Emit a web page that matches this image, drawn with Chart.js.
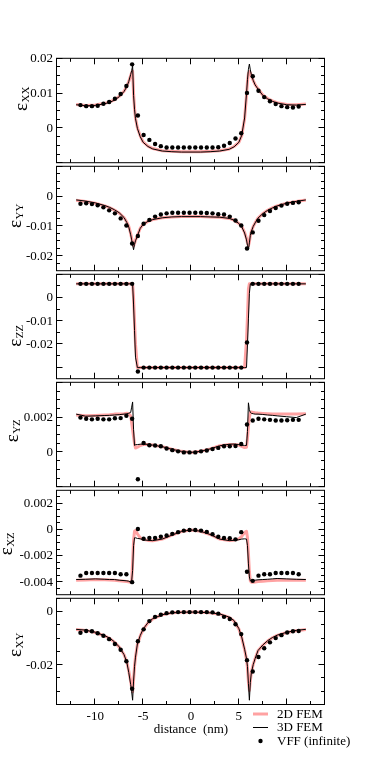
<!DOCTYPE html>
<html><head><meta charset="utf-8">
<script src="https://cdn.jsdelivr.net/npm/chart.js@4/dist/chart.umd.min.js"></script>
<style>
html,body{margin:0;padding:0;background:#fff;}
#wrap{position:relative;width:382px;height:763px;overflow:hidden;background:#fff;}
#wrap canvas{position:absolute;left:0;}
</style></head>
<body><div id="wrap"></div>
<script>
// ---------- data ----------
const lineX = [-12, -11, -10, -9, -8.5, -8, -7.5, -7,
  -6.7, -6.5, -6.3, -6.2, -6.1, -6.0, -5.9, -5.8,
  -5.6, -5.3, -5, -4.5, -4, -3, -2, -1,
  0,
  1, 2, 3, 4, 4.5, 5, 5.3, 5.6,
  5.8, 5.9, 6.0, 6.1, 6.2, 6.3, 6.5, 6.7,
  7, 7.5, 8, 8.5, 9, 10, 11, 12];

const dotX = [-11.55, -10.95, -10.35, -9.75, -9.15, -8.55, -7.95, -7.35, -6.75, -6.15,
  -5.55, -4.95, -4.35, -3.75, -3.15, -2.55, -1.95, -1.35, -0.75, -0.15,
  0.45, 1.05, 1.65, 2.25, 2.85, 3.45, 4.05, 4.65, 5.25, 5.85,
  6.45, 7.05, 7.65, 8.25, 8.85, 9.45, 10.05, 10.65, 11.25];

// eps_XX
const xx3D = [0.0068, 0.0065, 0.0066, 0.0071, 0.0075, 0.0081, 0.0091, 0.0106,
  0.0120, 0.0135, 0.0155, 0.0166, 0.0180, 0.0095, 0.0055, 0.0028,
  0.0000, -0.0024, -0.0040, -0.0052, -0.0059, -0.0065, -0.0067, -0.0068,
  -0.0068,
  -0.0068, -0.0067, -0.0065, -0.0060, -0.0053, -0.0040, -0.0020, 0.0030,
  0.0100, 0.0140, 0.0170, 0.0185, 0.0168, 0.0155, 0.0138, 0.0125,
  0.0113, 0.0095, 0.0085, 0.0078, 0.0073, 0.0068, 0.0067, 0.0069];
const xx2D = [0.0069, 0.0066, 0.0067, 0.0072, 0.0076, 0.0082, 0.0092, 0.0107,
  0.0121, 0.0135, 0.0152, 0.0160, 0.0165, 0.0100, 0.0058, 0.0030,
  0.0002, -0.0022, -0.0039, -0.0051, -0.0058, -0.0064, -0.0066, -0.0067,
  -0.0067,
  -0.0067, -0.0066, -0.0064, -0.0059, -0.0052, -0.0040, -0.0021, 0.0028,
  0.0095, 0.0135, 0.0158, 0.0163, 0.0160, 0.0152, 0.0138, 0.0126,
  0.0114, 0.0096, 0.0086, 0.0079, 0.0074, 0.0069, 0.0068, 0.0070];
const xxVFF = [0.0067, 0.0064, 0.0064, 0.0065, 0.0071, 0.0076, 0.0085, 0.0099, 0.0122, 0.0184,
  0.0037, -0.0019, -0.0033, -0.0045, -0.0051, -0.0055, -0.0055, -0.0055, -0.0055, -0.0055,
  -0.0055, -0.0055, -0.0055, -0.0055, -0.0054, -0.0050, -0.0042, -0.0029, -0.0014, 0.0102,
  0.0150, 0.0108, 0.0090, 0.0078, 0.0070, 0.0064, 0.0061, 0.0060, 0.0063];

// eps_YY
const yy3D = [-0.0011, -0.0015, -0.0021, -0.0030, -0.0036, -0.0044, -0.0054, -0.0070,
  -0.0087, -0.0102, -0.0128, -0.0145, -0.0162, -0.0178, -0.0160, -0.0148,
  -0.0132, -0.0106, -0.0093, -0.0083, -0.0077, -0.0071, -0.0068, -0.0067,
  -0.0067,
  -0.0067, -0.0068, -0.0069, -0.0073, -0.0079, -0.0090, -0.0101, -0.0122,
  -0.0145, -0.0163, -0.0178, -0.0155, -0.0130, -0.0117, -0.0100, -0.0088,
  -0.0072, -0.0057, -0.0046, -0.0038, -0.0031, -0.0022, -0.0016, -0.0011];
const yy2D = [-0.0012, -0.0016, -0.0022, -0.0031, -0.0037, -0.0045, -0.0055, -0.0070,
  -0.0086, -0.0100, -0.0124, -0.0140, -0.0155, -0.0165, -0.0157, -0.0146,
  -0.0130, -0.0106, -0.0093, -0.0083, -0.0077, -0.0071, -0.0068, -0.0067,
  -0.0067,
  -0.0067, -0.0068, -0.0069, -0.0073, -0.0079, -0.0090, -0.0100, -0.0120,
  -0.0140, -0.0155, -0.0165, -0.0152, -0.0130, -0.0117, -0.0100, -0.0088,
  -0.0072, -0.0057, -0.0046, -0.0038, -0.0031, -0.0022, -0.0016, -0.0011];
const yyVFF = [-0.0024, -0.0022, -0.0025, -0.0029, -0.0036, -0.0046, -0.0056, -0.0073, -0.0097, -0.0157,
  -0.0132, -0.0091, -0.0078, -0.0067, -0.0060, -0.0056, -0.0054, -0.0054, -0.0054, -0.0054,
  -0.0054, -0.0054, -0.0055, -0.0056, -0.0059, -0.0060, -0.0067, -0.0080, -0.0097, -0.0174,
  -0.0120, -0.0081, -0.0062, -0.0048, -0.0038, -0.0030, -0.0024, -0.0021, -0.0019];

// eps_ZZ
const zz3D = [0.0061, 0.0061, 0.0061, 0.0061, 0.0061, 0.0061, 0.0061, 0.0061,
  0.0061, 0.0061, 0.0061, 0.0061, 0.0061, -0.0030, -0.0140, -0.0255,
  -0.0300, -0.0300, -0.0300, -0.0300, -0.0300, -0.0300, -0.0300, -0.0300,
  -0.0300,
  -0.0300, -0.0300, -0.0300, -0.0300, -0.0300, -0.0300, -0.0300, -0.0300,
  -0.0300, -0.0200, -0.0090, 0.0020, 0.0061, 0.0061, 0.0061, 0.0061,
  0.0061, 0.0061, 0.0061, 0.0061, 0.0061, 0.0061, 0.0061, 0.0061];
const zz2D = [0.0061, 0.0061, 0.0061, 0.0061, 0.0061, 0.0061, 0.0061, 0.0061,
  0.0061, 0.0061, 0.0061, 0.0061, 0.0061, 0.0000, -0.0100, -0.0200,
  -0.0300, -0.0300, -0.0300, -0.0300, -0.0300, -0.0300, -0.0300, -0.0300,
  -0.0300,
  -0.0300, -0.0300, -0.0300, -0.0300, -0.0300, -0.0300, -0.0300, -0.0300,
  -0.0180, -0.0080, 0.0040, 0.0061, 0.0061, 0.0061, 0.0061, 0.0061,
  0.0061, 0.0061, 0.0061, 0.0061, 0.0061, 0.0061, 0.0061, 0.0061];
const zzVFF = [0.0061, 0.0061, 0.0061, 0.0061, 0.0061, 0.0061, 0.0061, 0.0061, 0.0061, 0.0061,
  -0.0317, -0.0300, -0.0300, -0.0300, -0.0300, -0.0300, -0.0300, -0.0300, -0.0300, -0.0300,
  -0.0300, -0.0300, -0.0300, -0.0300, -0.0300, -0.0300, -0.0300, -0.0300, -0.0300, -0.0192,
  0.0061, 0.0061, 0.0061, 0.0061, 0.0061, 0.0061, 0.0061, 0.0061, 0.0061];

// eps_YZ
const yz3D = [0.00220, 0.00208, 0.00210, 0.00212, 0.00213, 0.00215, 0.00217, 0.00220,
  0.00222, 0.00225, 0.00230, 0.00260, 0.00290, 0.00130, 0.00040, 0.00044,
  0.00045, 0.00047, 0.00048, 0.00046, 0.00042, 0.00033, 0.00018, 0.00006,
  0.00000,
  0.00006, 0.00020, 0.00038, 0.00047, 0.00048, 0.00045, 0.00042, 0.00040,
  0.00040, 0.00120, 0.00285, 0.00245, 0.00230, 0.00225, 0.00222, 0.00220,
  0.00220, 0.00218, 0.00215, 0.00213, 0.00210, 0.00205, 0.00200, 0.00220];
const yz2D = [0.00215, 0.00210, 0.00212, 0.00215, 0.00217, 0.00220, 0.00220, 0.00222,
  0.00225, 0.00222, 0.00210, 0.00170, 0.00130, 0.00090, 0.00050, 0.00025,
  0.00030, 0.00040, 0.00045, 0.00045, 0.00042, 0.00033, 0.00018, 0.00006,
  0.00000,
  0.00006, 0.00020, 0.00038, 0.00046, 0.00046, 0.00042, 0.00035, 0.00028,
  0.00030, 0.00080, 0.00150, 0.00200, 0.00230, 0.00232, 0.00230, 0.00228,
  0.00226, 0.00224, 0.00222, 0.00220, 0.00220, 0.00220, 0.00220, 0.00222];
const yzVFF = [0.00200, 0.00193, 0.00190, 0.00193, 0.00190, 0.00190, 0.00196, 0.00197, 0.00210, 0.00193,
  -0.00154, 0.00054, 0.00041, 0.00040, 0.00035, 0.00022, 0.00013, 0.00006, 0.00000, 0.00000,
  0.00000, 0.00006, 0.00011, 0.00019, 0.00026, 0.00035, 0.00035, 0.00037, 0.00048, 0.00160,
  0.00183, 0.00193, 0.00190, 0.00187, 0.00183, 0.00183, 0.00185, 0.00187, 0.00187];

// eps_XZ
const xz3D = [-0.00380, -0.00378, -0.00375, -0.00378, -0.00380, -0.00380, -0.00385, -0.00388,
  -0.00390, -0.00393, -0.00400, -0.00390, -0.00310, -0.00120, -0.00060, -0.00060,
  -0.00065, -0.00068, -0.00075, -0.00080, -0.00082, -0.00070, -0.00040, -0.00012,
  0.00000,
  -0.00010, -0.00035, -0.00070, -0.00082, -0.00080, -0.00075, -0.00070, -0.00068,
  -0.00070, -0.00120, -0.00260, -0.00360, -0.00390, -0.00390, -0.00388, -0.00385,
  -0.00382, -0.00380, -0.00378, -0.00375, -0.00372, -0.00375, -0.00378, -0.00380];
const xz2D = [-0.00385, -0.00383, -0.00380, -0.00382, -0.00384, -0.00386, -0.00390, -0.00393,
  -0.00395, -0.00398, -0.00400, -0.00390, -0.00250, -0.00080, -0.00010, -0.00005,
  -0.00030, -0.00060, -0.00072, -0.00080, -0.00082, -0.00070, -0.00040, -0.00012,
  0.00000,
  -0.00010, -0.00035, -0.00070, -0.00080, -0.00078, -0.00068, -0.00050, -0.00020,
  -0.00010, -0.00060, -0.00180, -0.00320, -0.00390, -0.00400, -0.00400, -0.00398,
  -0.00395, -0.00393, -0.00390, -0.00388, -0.00385, -0.00385, -0.00385, -0.00385];
const xzVFF = [-0.00350, -0.00330, -0.00330, -0.00330, -0.00330, -0.00330, -0.00330, -0.00340, -0.00340, -0.00400,
  0.00007, -0.00067, -0.00062, -0.00062, -0.00052, -0.00042, -0.00030, -0.00017, -0.00005, 0.00000,
  0.00000, -0.00005, -0.00015, -0.00032, -0.00052, -0.00062, -0.00064, -0.00072, -0.00017, -0.00320,
  -0.00390, -0.00350, -0.00340, -0.00340, -0.00330, -0.00330, -0.00330, -0.00330, -0.00340];

// eps_XY
const xy3D = [-0.0065, -0.0068, -0.0076, -0.0089, -0.0098, -0.0112, -0.0131, -0.0160,
  -0.0190, -0.0228, -0.0273, -0.0300, -0.0332, -0.0260, -0.0205, -0.0170,
  -0.0120, -0.0088, -0.0064, -0.0040, -0.0025, -0.0010, -0.0003, -0.0001,
  0.0000,
  -0.0001, -0.0003, -0.0007, -0.0019, -0.0032, -0.0062, -0.0094, -0.0140,
  -0.0175, -0.0205, -0.0270, -0.0332, -0.0265, -0.0230, -0.0198, -0.0175,
  -0.0145, -0.0124, -0.0108, -0.0096, -0.0087, -0.0076, -0.0069, -0.0065];
const xy2D = [-0.0066, -0.0069, -0.0077, -0.0090, -0.0099, -0.0113, -0.0132, -0.0160,
  -0.0188, -0.0222, -0.0262, -0.0285, -0.0300, -0.0255, -0.0205, -0.0170,
  -0.0122, -0.0090, -0.0066, -0.0041, -0.0026, -0.0010, -0.0003, -0.0001,
  0.0000,
  -0.0001, -0.0003, -0.0008, -0.0020, -0.0034, -0.0064, -0.0096, -0.0142,
  -0.0178, -0.0210, -0.0265, -0.0295, -0.0260, -0.0228, -0.0197, -0.0175,
  -0.0146, -0.0125, -0.0109, -0.0097, -0.0088, -0.0077, -0.0070, -0.0066];
const xyVFF = [-0.0078, -0.0071, -0.0072, -0.0080, -0.0089, -0.0102, -0.0120, -0.0142, -0.0185, -0.0289,
  -0.0110, -0.0065, -0.0034, -0.0018, -0.0010, -0.0004, -0.0001, 0.0000, 0.0000, 0.0000,
  0.0000, 0.0000, 0.0000, -0.0001, -0.0006, -0.0018, -0.0026, -0.0046, -0.0083, -0.0181,
  -0.0224, -0.0169, -0.0136, -0.0114, -0.0098, -0.0087, -0.0077, -0.0072, -0.0071];

// ---------- ticks ----------
const xTickLabels = [-10, -5, 0, 5];
const xMajorTicks = [-10, -5, 0, 5, 10];
const xMinorTicks = [-12.5, -7.5, -2.5, 2.5, 7.5, 12.5];

const yLabelsXX = [0, 0.01, 0.02];
const yMajorXX = [-0.01, 0, 0.01, 0.02];
const yMinorXX = [-0.0075, -0.005, -0.0025, 0.0025, 0.005, 0.0075, 0.0125, 0.015, 0.0175];

const yLabelsYY = [-0.02, -0.01, 0];
const yMajorYY = [-0.02, -0.01, 0, 0.01];
const yMinorYY = [-0.0225, -0.0175, -0.015, -0.0125, -0.0075, -0.005, -0.0025, 0.0025, 0.005, 0.0075];

const yLabelsZZ = [-0.02, -0.01, 0];
const yMajorZZ = [-0.03, -0.02, -0.01, 0, 0.01];
const yMinorZZ = [-0.025, -0.015, -0.005, 0.005];

const yLabelsYZ = [0, 0.002];
const yMajorYZ = [-0.002, 0, 0.002, 0.004];
const yMinorYZ = [-0.0015, -0.001, -0.0005, 0.0005, 0.001, 0.0015, 0.0025, 0.003, 0.0035];

const yLabelsXZ = [-0.004, -0.002, 0, 0.002];
const yMajorXZ = [-0.004, -0.002, 0, 0.002];
const yMinorXZ = [-0.0045, -0.0035, -0.003, -0.0025, -0.0015, -0.001, -0.0005, 0.0005, 0.001, 0.0015, 0.0025];

const yLabelsXY = [-0.02, 0];
const yMajorXY = [-0.02, 0];
const yMinorXY = [-0.03, -0.025, -0.015, -0.01, -0.005, 0.005];

const legendLabels = ['2D FEM', '3D FEM', 'VFF (infinite)'];

// ---------- layout / style ----------
const SERIF = "'Liberation Serif','Times New Roman',Times,serif";
const PINK = '#ffa2a2';
const panels = [
  {sub: 'XX', min: -0.01,  max: 0.02,  labels: yLabelsXX, majors: yMajorXX, minors: yMinorXX, d2: xx2D, d3: xx3D, vff: xxVFF, titleY: 99,  titleX: 27},
  {sub: 'YY', min: -0.025, max: 0.01,  labels: yLabelsYY, majors: yMajorYY, minors: yMinorYY, d2: yy2D, d3: yy3D, vff: yyVFF, titleY: 216, titleX: 21},
  {sub: 'ZZ', min: -0.035, max: 0.01,  labels: yLabelsZZ, majors: yMajorZZ, minors: yMinorZZ, d2: zz2D, d3: zz3D, vff: zzVFF, titleY: 336, titleX: 21},
  {sub: 'YZ', min: -0.002, max: 0.004, labels: yLabelsYZ, majors: yMajorYZ, minors: yMinorYZ, d2: yz2D, d3: yz3D, vff: yzVFF, titleY: 431, titleX: 18},
  {sub: 'XZ', min: -0.005, max: 0.003, labels: yLabelsXZ, majors: yMajorXZ, minors: yMinorXZ, d2: xz2D, d3: xz3D, vff: xzVFF, titleY: 544, titleX: 12},
  {sub: 'XY', min: -0.035, max: 0.005, labels: yLabelsXY, majors: yMajorXY, minors: yMinorXY, d2: xy2D, d3: xy3D, vff: xyVFF, titleY: 645, titleX: 21}
];

const PANEL_TOP = 57, PANEL_H = 108, PAD = 10;
const wrap = document.getElementById('wrap');

panels.forEach((p, i) => {
  const isLast = i === panels.length - 1;
  const top = PANEL_TOP + PANEL_H * i;
  const cTop = top - PAD;
  const h = isLast ? 763 - cTop : PANEL_H + 2 * PAD;
  const c = document.createElement('canvas');
  c.width = 382; c.height = h;
  c.style.top = cTop + 'px';
  c.style.width = '382px'; c.style.height = h + 'px';
  wrap.appendChild(c);

  const decor = {
    id: 'decor' + i,
    afterDraw(chart) {
      const {ctx, chartArea: a, scales} = chart;
      const xs = scales.x, ys = scales.y;
      ctx.save();
      ctx.strokeStyle = '#000';
      ctx.lineWidth = 1;
      const L = a.left - 0.5, R = a.right - 0.5, T = a.top - 0.5, B = a.bottom - 0.5;
      ctx.strokeRect(L, T, R - L, B - T);
      const seg = (x1, y1, x2, y2) => { ctx.beginPath(); ctx.moveTo(x1, y1); ctx.lineTo(x2, y2); ctx.stroke(); };
      const xt = (vals, len) => vals.forEach(v => {
        const px = Math.round(xs.getPixelForValue(v)) - 0.5;
        seg(px, B, px, B - len); seg(px, T, px, T + len);
      });
      const yt = (vals, len) => vals.forEach(v => {
        const py = Math.round(ys.getPixelForValue(v)) - 0.5;
        seg(L, py, L + len, py); seg(R, py, R - len, py);
      });
      xt(xMajorTicks, 6); xt(xMinorTicks, 3.5);
      yt(p.majors, 6); yt(p.minors, 3.5);

      // y-axis title with subscript, rotated
      ctx.fillStyle = '#000';
      ctx.translate(p.titleX, p.titleY - cTop);
      ctx.rotate(-Math.PI / 2);
      ctx.textBaseline = 'alphabetic';
      ctx.textAlign = 'left';
      ctx.font = '19px ' + SERIF;
      const we = ctx.measureText('ε').width;
      ctx.font = '11px ' + SERIF;
      const ws = ctx.measureText(p.sub).width;
      const x0 = -(we + ws) / 2;
      ctx.font = '19px ' + SERIF;
      ctx.fillText('ε', x0, 0);
      ctx.font = '11px ' + SERIF;
      ctx.fillText(p.sub, x0 + we + 0.5, 2);
      ctx.restore();

      if (isLast) {
        ctx.save();
        ctx.font = '13px ' + SERIF;
        ctx.fillStyle = '#000';
        ctx.textBaseline = 'middle';
        ctx.textAlign = 'left';
        const rows = [714, 727.5, 741].map(v => v - cTop);
        ctx.strokeStyle = PINK; ctx.lineWidth = 3;
        seg(253, rows[0], 268, rows[0]);
        ctx.strokeStyle = '#000'; ctx.lineWidth = 1;
        seg(253, rows[1], 268, rows[1]);
        ctx.beginPath(); ctx.arc(260.5, rows[2], 2.2, 0, Math.PI * 2); ctx.fill();
        legendLabels.forEach((t, k) => ctx.fillText(t, 277, rows[k] + 0.5));
        ctx.restore();
      }
    }
  };

  new Chart(c, {
    type: 'scatter',
    data: {
      datasets: [
        {label: legendLabels[2], data: dotX.map((x, k) => ({x, y: p.vff[k]})), showLine: false,
         pointRadius: 2.2, pointBackgroundColor: '#000', pointBorderWidth: 0, pointHoverRadius: 2.2, order: 0},
        {label: legendLabels[1], data: lineX.map((x, k) => ({x, y: p.d3[k]})), showLine: true,
         borderColor: '#000', borderWidth: 1, pointRadius: 0, order: 1},
        {label: legendLabels[0], data: lineX.map((x, k) => ({x, y: p.d2[k]})), showLine: true,
         borderColor: PINK, borderWidth: 3, borderJoinStyle: 'round', pointRadius: 0, order: 2}
      ]
    },
    options: {
      animation: false,
      responsive: false,
      devicePixelRatio: 1,
      events: [],
      layout: {padding: {left: 0, right: 57, top: PAD, bottom: isLast ? 0 : PAD}},
      plugins: {legend: {display: false}, tooltip: {enabled: false}, title: {display: false}},
      scales: {
        x: {
          type: 'linear', min: -14, max: 14, display: isLast,
          grid: {display: false, drawTicks: false}, border: {display: false},
          afterBuildTicks: s => { s.ticks = xTickLabels.map(v => ({value: v})); },
          afterFit: s => { s.height = isLast ? 58 : 0; },
          ticks: {autoSkip: false, maxRotation: 0, padding: 4, color: '#000',
                  font: {family: SERIF, size: 13}, callback: v => String(v)},
          title: {display: true, text: 'distance  (nm)', color: '#000',
                  font: {family: SERIF, size: 13}, padding: {top: 0, bottom: 26}}
        },
        y: {
          type: 'linear', min: p.min, max: p.max,
          grid: {display: false, drawTicks: false}, border: {display: false},
          afterBuildTicks: s => { s.ticks = p.labels.map(v => ({value: v})); },
          afterFit: s => { s.width = 57; },
          ticks: {autoSkip: false, padding: 4, color: '#000',
                  font: {family: SERIF, size: 13}, callback: v => String(v)}
        }
      }
    },
    plugins: [decor]
  });
});
</script>
</body></html>
